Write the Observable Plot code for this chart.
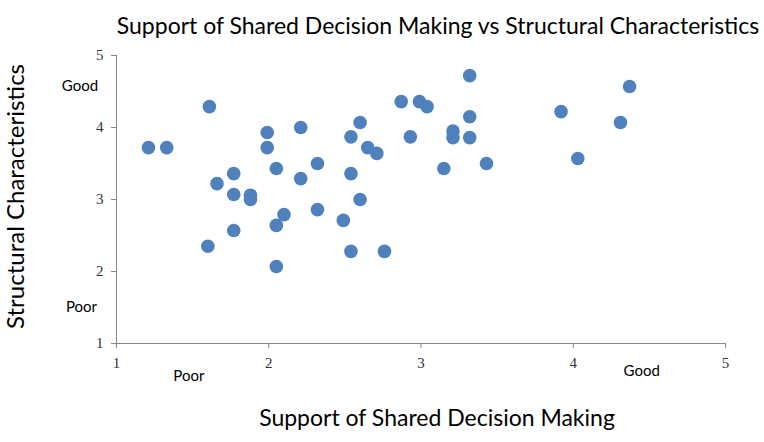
<!DOCTYPE html>
<html>
<head>
<meta charset="utf-8">
<script src="https://cdn.jsdelivr.net/npm/d3@7"></script>
<script src="https://cdn.jsdelivr.net/npm/@observablehq/plot@0.6"></script>
<style>
  html, body { margin: 0; padding: 0; background: #fff; }
  svg { display: block; }
</style>
</head>
<body>
<div id="chart"></div>
<script>
// Support of Shared Decision Making (x) vs Structural Characteristics (y)
const sdm = [1.21, 1.33, 1.61, 1.60, 1.66, 1.77, 1.77, 1.77, 1.88, 1.88, 1.99, 1.99, 2.05, 2.05, 2.05,
  2.10, 2.21, 2.21, 2.32, 2.32, 2.49, 2.54, 2.54, 2.54, 2.60, 2.60, 2.65, 2.71, 2.76, 2.87,
  2.93, 2.99, 3.04, 3.15, 3.21, 3.21, 3.32, 3.32, 3.32, 3.43, 3.92, 4.03, 4.31, 4.37];
const structural = [3.72, 3.72, 4.29, 2.35, 3.22, 3.36, 3.07, 2.57, 3.06, 3.00, 3.93, 3.72, 3.43, 2.64, 2.07,
  2.79, 4.00, 3.29, 3.50, 2.86, 2.71, 3.87, 3.36, 2.28, 4.07, 3.00, 3.72, 3.64, 2.28, 4.36,
  3.87, 4.36, 4.29, 3.43, 3.95, 3.86, 4.72, 4.15, 3.86, 3.50, 4.22, 3.57, 4.07, 4.57];
const ticks = [1, 2, 3, 4, 5];
const noteLabels = ["Good", "Poor", "Poor", "Good"];
const noteX = [0.76, 0.77, 1.475, 4.45];
const noteY = [4.57, 1.51, 0.546, 0.616];
const title = "Support of Shared Decision Making vs Structural Characteristics";
const xTitle = "Support of Shared Decision Making";
const yTitle = "Structural Characteristics";

const points = sdm.map((x, i) => ({x, y: structural[i]}));
const notes = noteLabels.map((label, i) => ({label, x: noteX[i], y: noteY[i]}));

const sans = "Lato, 'Open Sans', sans-serif";
const serif = "'Liberation Serif', 'DejaVu Serif', serif";
const axisColor = "#868686";

const chart = Plot.plot({
  width: 764,
  height: 442,
  marginLeft: 116,
  marginRight: 39,
  marginTop: 55,
  marginBottom: 99,
  style: {background: "#fff", overflow: "visible"},
  x: {domain: [1, 5]},
  y: {domain: [1, 5]},
  marks: [
    Plot.ruleY([1], {stroke: axisColor, strokeWidth: 1}),
    Plot.ruleX([1], {stroke: axisColor, strokeWidth: 1}),
    Plot.axisX(ticks, {
      tickSize: 5, tickPadding: 9, stroke: axisColor, fill: "#333",
      fontSize: 15, fontFamily: serif, label: null, tickFormat: d => d
    }),
    Plot.axisY(ticks, {
      tickSize: 5, tickPadding: 8, stroke: axisColor, fill: "#333",
      fontSize: 15, fontFamily: serif, label: null, tickFormat: d => d
    }),
    Plot.dot(points, {x: "x", y: "y", r: 6.8, fill: "#4F81BD", stroke: "none"}),
    Plot.text(notes, {x: "x", y: "y", text: "label", fontSize: 15, fontFamily: sans, fill: "#000", clip: false}),
    Plot.text([title], {frameAnchor: "top", dy: -38, dx: 17, fontSize: 23, fontFamily: sans, fill: "#000"}),
    Plot.text([xTitle], {frameAnchor: "bottom", dy: 82, dx: 16, fontSize: 23, fontFamily: sans, fill: "#000"}),
    Plot.text([yTitle], {frameAnchor: "left", textAnchor: "middle", dx: -100, dy: -3, rotate: -90, fontSize: 24, fontFamily: sans, fill: "#000"})
  ]
});
document.getElementById("chart").appendChild(chart);
</script>
</body>
</html>
